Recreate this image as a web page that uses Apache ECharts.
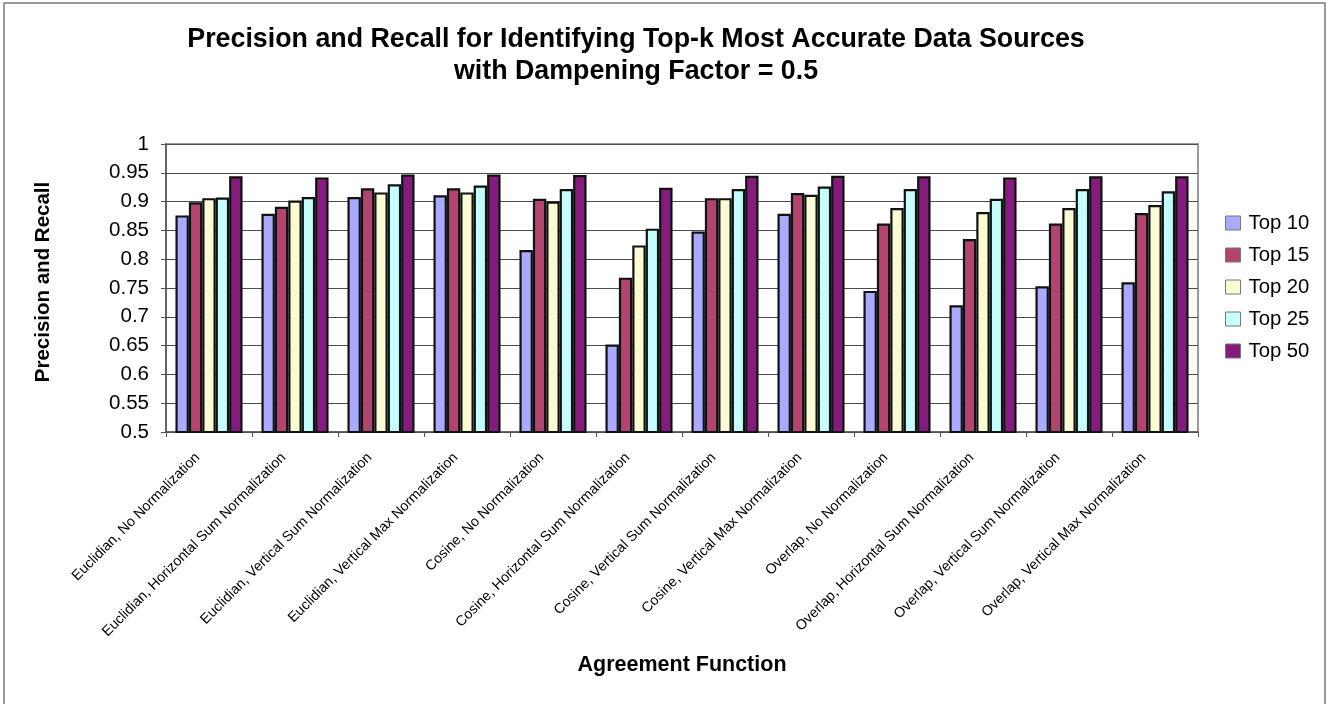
<!DOCTYPE html>
<html>
<head>
<meta charset="utf-8">
<script src="https://cdn.jsdelivr.net/npm/echarts@6/dist/echarts.min.js"></script>
<style>
  html, body { margin: 0; padding: 0; background: #fff; }
  #chart { width: 1328px; height: 704px; }
</style>
</head>
<body>
<div id="chart"></div>
<script>
// Agreement functions on the category axis
const categories = [
  'Euclidian, No Normalization',
  'Euclidian, Horizontal Sum Normalization',
  'Euclidian, Vertical Sum Normalization',
  'Euclidian, Vertical Max Normalization',
  'Cosine, No Normalization',
  'Cosine, Horizontal Sum Normalization',
  'Cosine, Vertical Sum Normalization',
  'Cosine, Vertical Max Normalization',
  'Overlap, No Normalization',
  'Overlap, Horizontal Sum Normalization',
  'Overlap, Vertical Sum Normalization',
  'Overlap, Vertical Max Normalization'
];

// Precision/recall per top-k cut-off
const top10 = [0.876, 0.879, 0.908, 0.911, 0.816, 0.652, 0.848, 0.879, 0.745, 0.720, 0.753, 0.760];
const top15 = [0.899, 0.891, 0.923, 0.923, 0.905, 0.768, 0.906, 0.915, 0.862, 0.835, 0.862, 0.880];
const top20 = [0.906, 0.902, 0.916, 0.916, 0.900, 0.824, 0.906, 0.912, 0.889, 0.882, 0.889, 0.894];
const top25 = [0.907, 0.908, 0.930, 0.928, 0.922, 0.853, 0.922, 0.926, 0.922, 0.905, 0.922, 0.918];
const top50 = [0.944, 0.942, 0.947, 0.947, 0.946, 0.924, 0.945, 0.945, 0.944, 0.942, 0.944, 0.944];

const seriesNames = ['Top 10', 'Top 15', 'Top 20', 'Top 25', 'Top 50'];
const seriesData = [top10, top15, top20, top25, top50];
const seriesColors = ['#aaaaff', '#b4446f', '#fbfbd4', '#c6fdfd', '#851c7d'];

const font = '"Liberation Sans", Arial, sans-serif';

const chart = echarts.init(document.getElementById('chart'), null, { renderer: 'canvas' });

chart.setOption({
  animation: false,
  backgroundColor: '#ffffff',
  textStyle: { fontFamily: font },
  title: {
    text: 'Precision and Recall for Identifying Top-k Most Accurate Data Sources\nwith Dampening Factor = 0.5',
    left: 631,
    top: 19,
    textAlign: 'center',
    textStyle: {
      fontFamily: font,
      fontSize: 26.8,
      fontWeight: 'bold',
      color: '#000',
      lineHeight: 32
    }
  },
  legend: {
    orient: 'vertical',
    left: 1220,
    top: 208,
    itemWidth: 15,
    itemHeight: 14,
    itemGap: 12,
    icon: 'rect',
    data: seriesNames,
    itemStyle: { borderColor: '#777', borderWidth: 1 },
    textStyle: { fontFamily: font, fontSize: 20.3, color: '#000', padding: [0, 0, 0, 3] }
  },
  grid: {
    left: 166,
    right: 130,
    top: 144,
    bottom: 272,
    show: true,
    borderColor: '#9a9a9a',
    borderWidth: 2,
    containLabel: false
  },
  xAxis: {
    type: 'category',
    data: categories,
    name: 'Agreement Function',
    nameLocation: 'middle',
    nameGap: 222,
    nameTextStyle: { fontFamily: font, fontSize: 21.5, fontWeight: 'bold', color: '#000' },
    axisLine: { lineStyle: { color: '#555', width: 1.5 } },
    axisTick: { show: true, length: 5, alignWithLabel: false, lineStyle: { color: '#555' } },
    axisLabel: {
      interval: 0,
      rotate: 45,
      margin: 12,
      padding: [0, 16, 0, 0],
      fontFamily: font,
      fontSize: 14.2,
      color: '#000'
    }
  },
  yAxis: {
    type: 'value',
    min: 0.5,
    max: 1,
    interval: 0.05,
    name: 'Precision and Recall',
    nameLocation: 'middle',
    nameGap: 112,
    nameTextStyle: { fontFamily: font, fontSize: 20.5, fontWeight: 'bold', color: '#000', padding: [0, 0, 0, 12] },
    axisLine: { show: true, lineStyle: { color: '#555', width: 1.5 } },
    axisTick: { show: true, length: 5, lineStyle: { color: '#555' } },
    axisLabel: {
      margin: 17,
      fontFamily: font,
      fontSize: 20.5,
      color: '#000',
      formatter: v => String(parseFloat(v.toFixed(2)))
    },
    splitLine: { show: true, lineStyle: { color: '#4a4a4a', width: 1 } }
  },
  series: seriesNames.map((name, i) => ({
    name: name,
    type: 'bar',
    data: seriesData[i],
    barGap: '0%',
    barCategoryGap: '22%',
    itemStyle: {
      color: seriesColors[i],
      borderColor: '#111',
      borderWidth: 2.2
    }
  })),
  graphic: [{
    type: 'rect',
    shape: { x: 4, y: 3, width: 1321, height: 702 },
    style: { fill: 'none', stroke: '#7a7a7a', lineWidth: 1.5 },
    silent: true
  }]
});
</script>
</body>
</html>
